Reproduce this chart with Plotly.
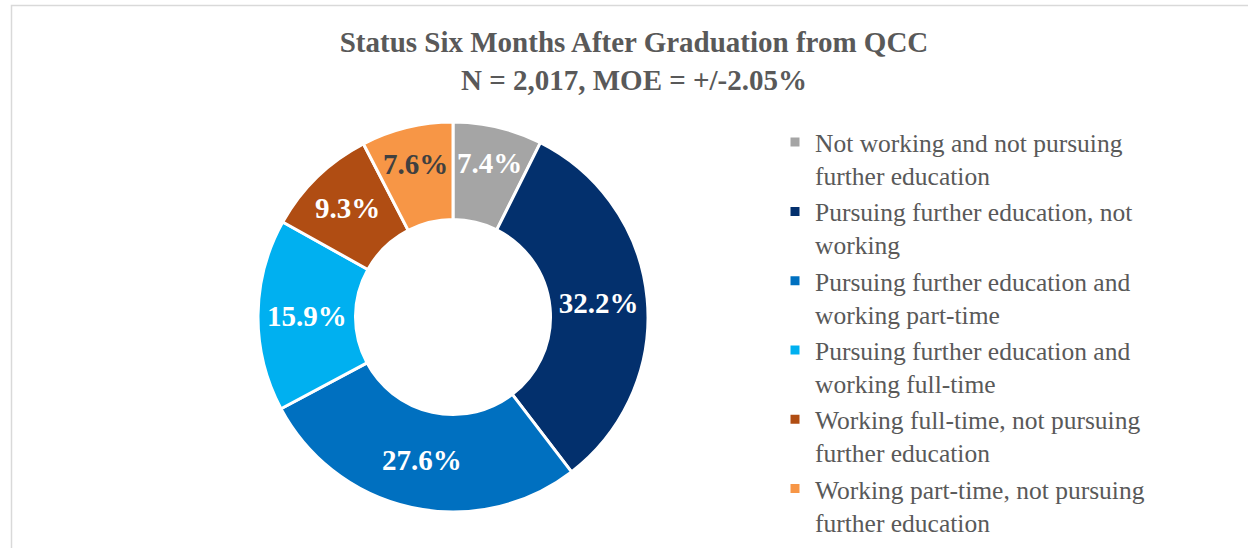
import plotly.graph_objects as go

categories = [
    "Not working and not pursuing<br>further education",
    "Pursuing further education, not<br>working",
    "Pursuing further education and<br>working part-time",
    "Pursuing further education and<br>working full-time",
    "Working full-time, not pursuing<br>further education",
    "Working part-time, not pursuing<br>further education",
]
values = [7.4, 32.2, 27.6, 15.9, 9.3, 7.6]
colors = ["#A5A5A5", "#03306D", "#0070C0", "#00B0F0", "#B04D13", "#F79646"]
label_colors = ["#FFFFFF", "#FFFFFF", "#FFFFFF", "#FFFFFF", "#FFFFFF", "#404040"]

W, H = 1248, 548
serif = "Liberation Serif, Times New Roman, serif"

fig = go.Figure(go.Pie(
    labels=categories,
    values=values,
    hole=0.5,
    sort=False,
    direction="clockwise",
    rotation=0,
    marker=dict(colors=colors, line=dict(color="white", width=3)),
    texttemplate="%{value:.1f}%",
    textposition="inside",
    insidetextorientation="horizontal",
    textfont=dict(family=serif, size=29, color=label_colors, weight="bold"),
    domain=dict(x=[258 / W, 648 / W], y=[(H - 512) / H, (H - 122) / H]),
))

fig.update_layout(
    width=W, height=H,
    margin=dict(l=0, r=0, t=0, b=0, autoexpand=False),
    paper_bgcolor="white",
    plot_bgcolor="white",
    title=dict(
        text="<b>Status Six Months After Graduation from QCC<br>N = 2,017, MOE = +/-2.05%</b>",
        x=634 / W, xanchor="center",
        y=1 - 52 / H, yanchor="top",
        font=dict(family=serif, size=29, color="#595959"),
    ),
    legend=dict(
        x=775 / W, xanchor="left",
        y=1 - 119 / H, yanchor="top",
        font=dict(family=serif, size=25.5, color="#595959"),
        valign="top",
        tracegroupgap=0,
        itemwidth=30,
        bgcolor="rgba(0,0,0,0)",
    ),
    shapes=[dict(
        type="rect", xref="paper", yref="paper",
        x0=11.5 / W, x1=1.01, y0=-0.01, y1=1 - 5.5 / H,
        line=dict(color="#D9D9D9", width=1.5),
        fillcolor="rgba(0,0,0,0)", layer="below",
    )],
)

fig.write_html(
    "out.html",
    config={"displayModeBar": False},
    post_script="document.body.style.margin='0';",
)
